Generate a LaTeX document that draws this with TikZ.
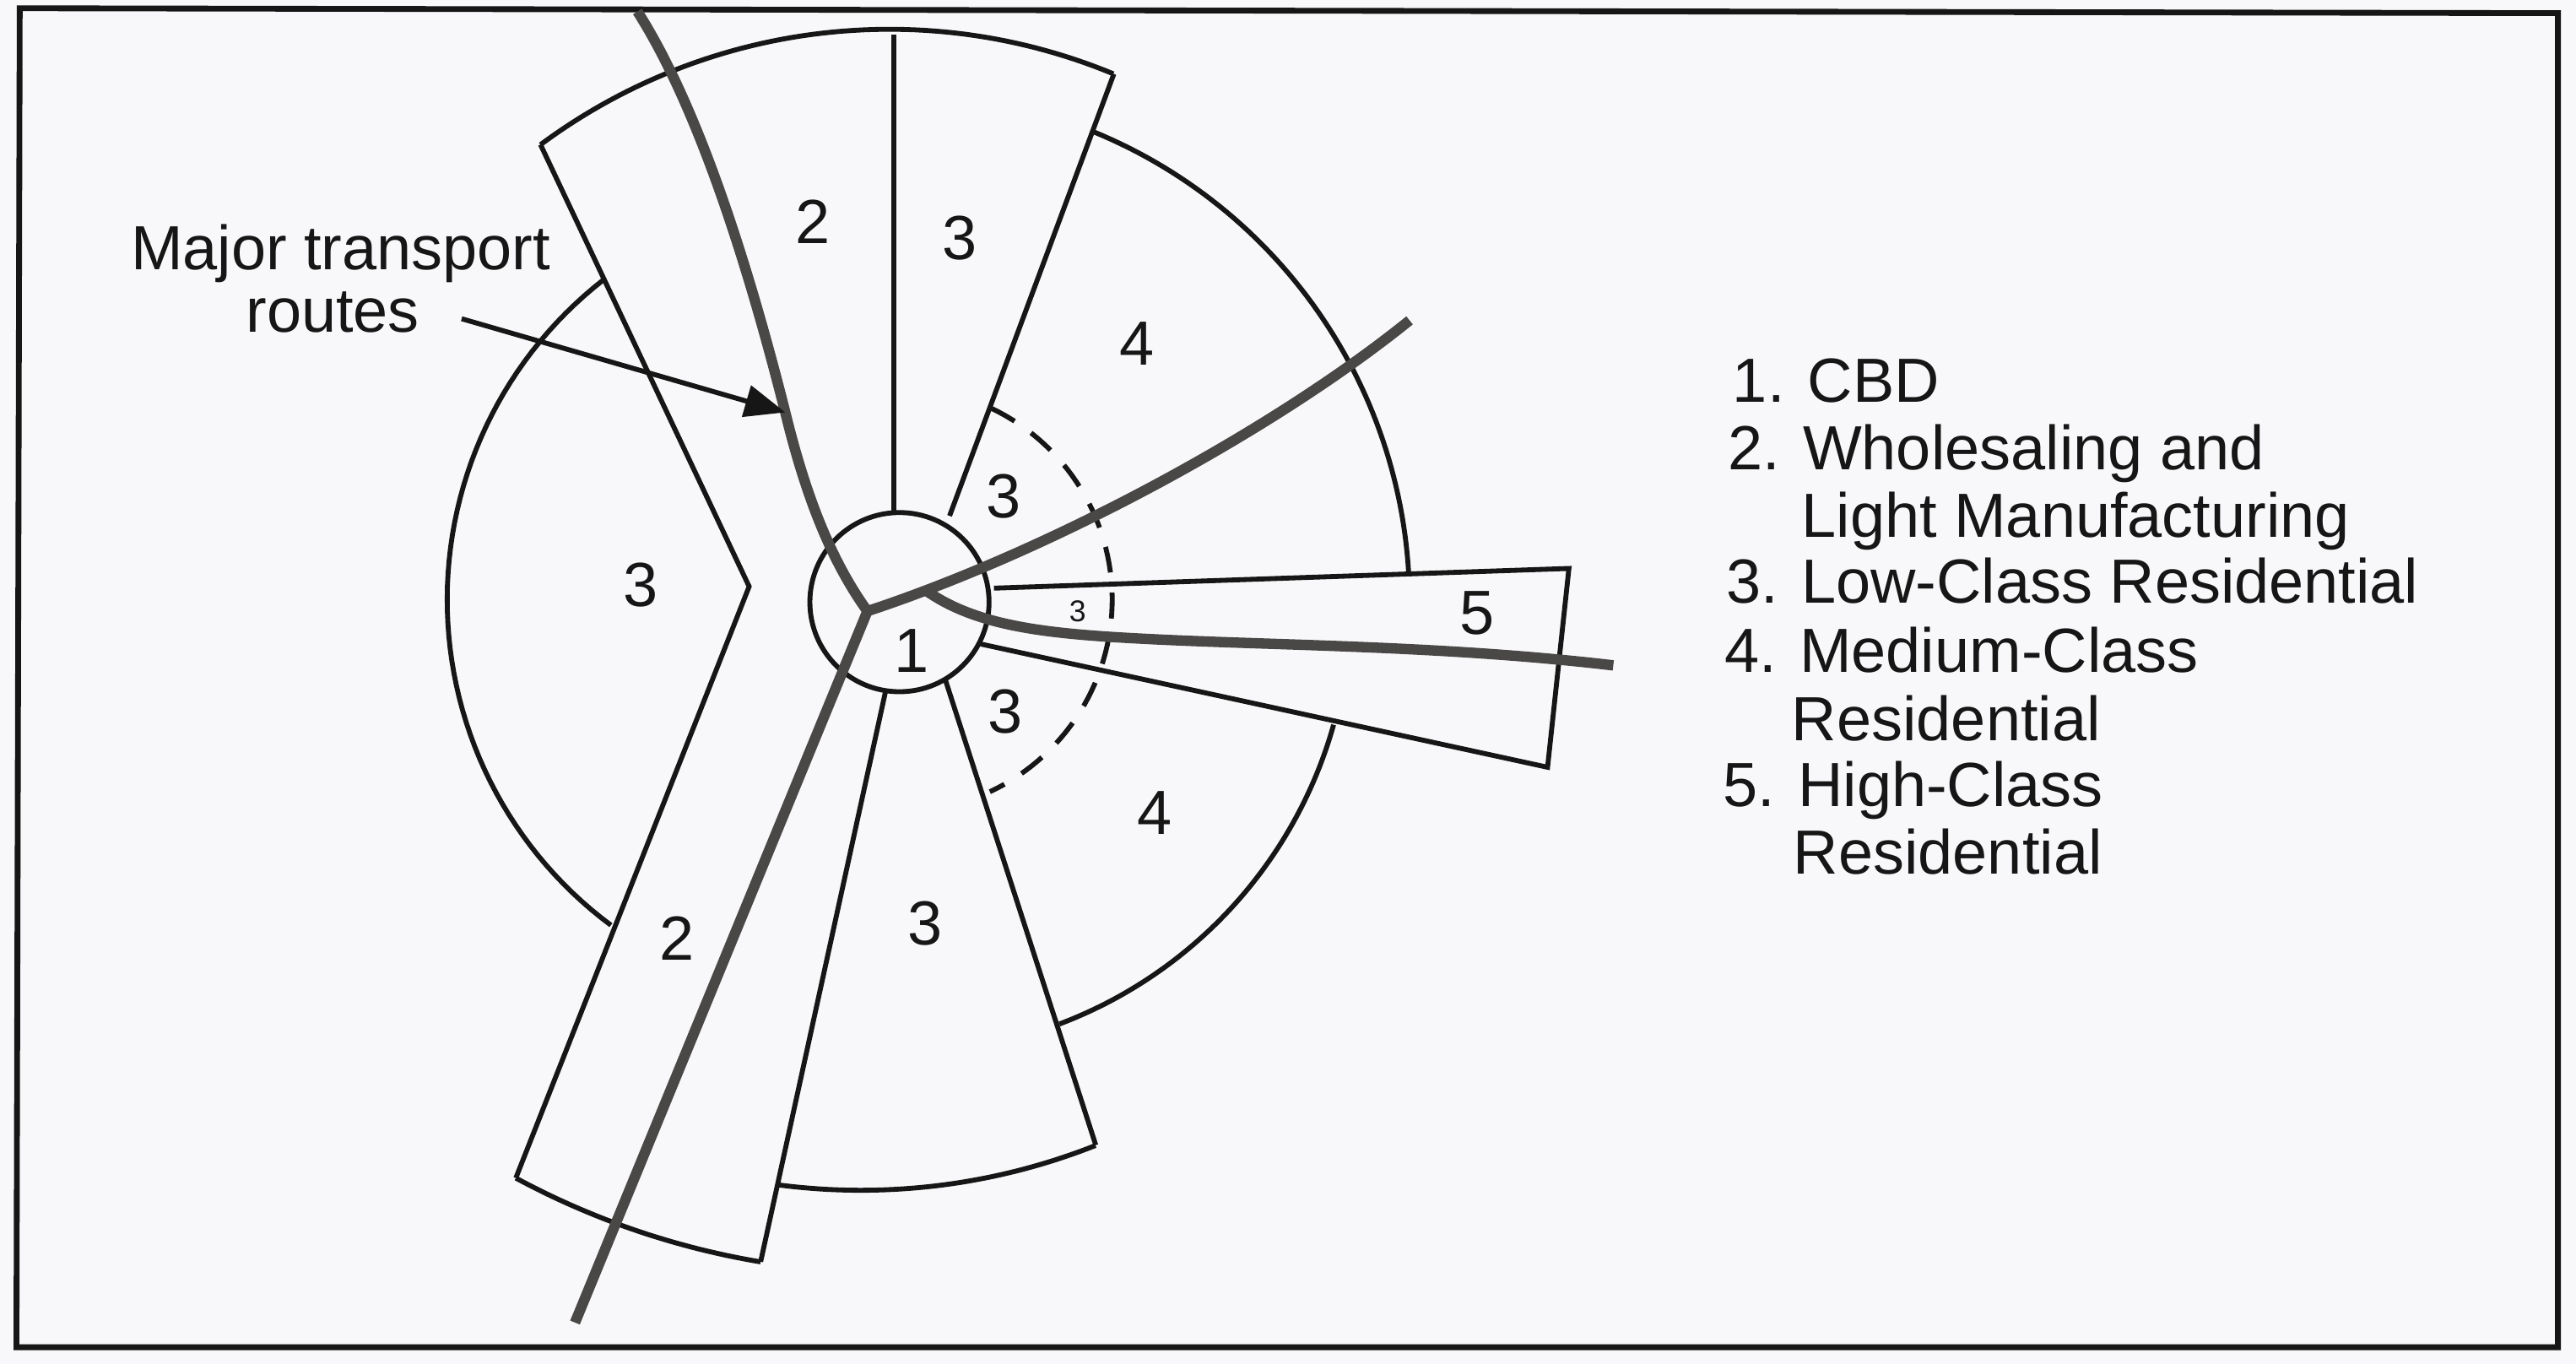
\documentclass[tikz,border=0pt]{standalone}
\usepackage{fontspec}
\setmainfont{Liberation Sans}
\usetikzlibrary{arrows.meta}
\definecolor{paper}{RGB}{248,248,250}
\definecolor{ink}{RGB}{22,22,22}
\definecolor{roadgray}{RGB}{74,72,70}
\begin{document}
\begin{tikzpicture}[x=0.01cm,y=-0.01cm,
  zone/.style={line width=0.85pt, ink, line join=miter},
  road/.style={line width=1.8pt, roadgray, line join=round},
  lbl/.style={font=\fontsize{10.8}{13}\selectfont, inner sep=0pt, text=ink},
  smalllbl/.style={font=\fontsize{5.2}{6}\selectfont, inner sep=0pt, text=ink},
  legend/.style={font=\fontsize{10.8}{13}\selectfont, inner sep=0pt, anchor=base west, text=ink}]
\useasboundingbox (0,0) rectangle (1568,830);
\fill[paper] (0,0) rectangle (1568,830);
% frame
\draw[line width=1pt, ink] (12,5) -- (1557,8) -- (1557,820) -- (10,820) -- cycle;

% zone outlines: straight edges
\draw[zone] (329,88) -- (456,357) -- (314,717);
\draw[zone] (463,768) -- (539,421);
\draw[zone] (575.5,414) -- (667,697);
\draw[zone] (605,358) -- (955,346) -- (942,467) -- (597,392);
\draw[zone] (678,45) -- (578,314);
\draw[zone] (544,21) -- (544,312);
% zone outlines: arcs
\draw[zone, domain=-126.6:-67.5, samples=60, variable=\t] plot ({541.4+356.3*cos(\t)},{374.1+356.3*sin(\t)});
\draw[zone, domain=126.6:232.1, samples=60, variable=\t] plot ({519+246.8*cos(\t)},{365+246.8*sin(\t)});
\draw[zone, domain=-67.6:-3.3, samples=60, variable=\t] plot ({548+310*cos(\t)},{367+310*sin(\t)});
\draw[zone, domain=15.7:69.3, samples=60, variable=\t] plot ({548+274*cos(\t)},{367+274*sin(\t)});
\draw[zone, domain=68.4:97.5, samples=40, variable=\t] plot ({524+388*cos(\t)},{336.5+388*sin(\t)});
\draw[zone, domain=99.5:118.3, samples=30, variable=\t] plot ({542.5+482*cos(\t)},{292.7+482*sin(\t)});
\draw[zone, dash pattern=on 4.5pt off 3.5pt, domain=-64.4:65, samples=60, variable=\t] plot ({548+129*cos(\t)},{365+129*sin(\t)});
% CBD
\draw[zone] (547.5,366.5) circle[radius=0.545cm];

% major transport routes
\draw[road] (388,7) .. controls (425,65) and (455,160) .. (478,251) .. controls (490,300) and (505,340) .. (528,372);
\draw[road] (528,372) -- (350,805);
\draw[road] (528,372) .. controls (640,335) and (775,262) .. (858,195);
\draw[road] (563,359) .. controls (595,382) and (640,386) .. (700,389) .. controls (780,393) and (880,393) .. (982,405);

% zone numbers
\node[lbl] (u2) at (495,135) {2};
\node[lbl] (u3) at (584,145) {3};
\node[lbl] (u4) at (692,209) {4};
\node[lbl] (i3a) at (611,302) {3};
\node[lbl] (l3) at (390,356) {3};
\node[lbl] (c1) at (555,396) {1};
\node[smalllbl] (s3) at (656,372) {3};
\node[lbl] (h5) at (899,373) {5};
\node[lbl] (i3b) at (612,433) {3};
\node[lbl] (d4) at (703,495) {4};
\node[lbl] (d3) at (563,562) {3};
\node[lbl] (d2) at (412,571) {2};

% callout
\node[legend] (mt1) at (79,164) {Major transport};
\node[legend] (mt2) at (149,202) {routes};
\coordinate (astart) at (281,194);
\coordinate (atip) at (478,251);
\draw[line width=0.85pt, ink, -{Triangle[length=7pt,width=5.5pt]}] (astart) -- (atip);

% legend
\node[legend] (k1) at (1054,245) {1. CBD};
\node[legend] (k2) at (1051,286) {2. Wholesaling and};
\node[legend] (k2b) at (1096,327) {Light Manufacturing};
\node[legend] (k3) at (1050,367) {3. Low-Class Residential};
\node[legend] (k4) at (1049,409) {4. Medium-Class};
\node[legend] (k4b) at (1090,451) {Residential};
\node[legend] (k5) at (1048,491) {5. High-Class};
\node[legend] (k5b) at (1091,532) {Residential};
\end{tikzpicture}
\end{document}
